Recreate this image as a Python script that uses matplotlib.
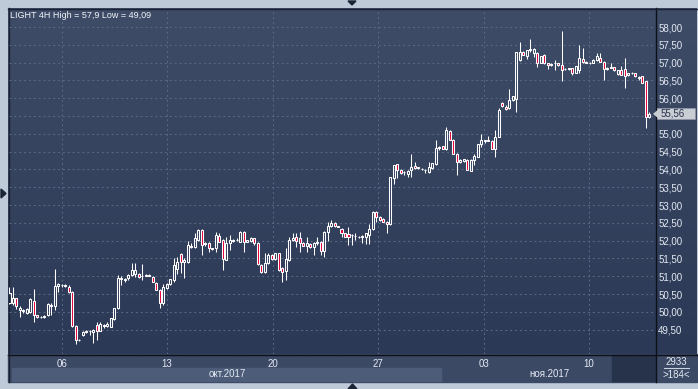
import numpy as np
import matplotlib
matplotlib.use('Agg')
import matplotlib.pyplot as plt
import matplotlib.colors as mcolors
from matplotlib.patches import Rectangle, Polygon
from matplotlib.transforms import blended_transform_factory

# 4H candles, LIGHT, oct-nov 2017
O = [50.26, 50.26, 50.38, 50.05, 50.02, 49.98, 50.00, 50.31, 49.91, 49.85,
     49.86, 49.90, 50.15, 50.16, 50.73, 50.76, 50.75, 50.70, 50.56, 49.60,
     49.20, 49.35, 49.44, 49.46, 49.44, 49.62, 49.47, 49.60, 49.60, 49.58,
     49.79, 50.10, 50.94, 50.92, 50.94, 51.03, 51.06, 51.06, 51.00, 51.02,
     51.02, 50.99, 50.82, 50.61, 50.24, 50.66, 50.77, 50.89, 51.20, 51.61,
     51.41, 51.41, 51.86, 51.83, 52.02, 52.30, 51.90, 51.92, 51.78, 51.78,
     52.13, 52.02, 51.45, 51.92, 52.00, 52.03, 51.97, 52.25, 51.97, 52.00,
     52.06, 51.92, 51.31, 51.13, 51.36, 51.60, 51.48, 51.64, 51.22, 51.15,
     51.45, 52.02, 52.10, 52.06, 51.94, 51.86, 51.90, 51.82, 51.92, 51.97,
     51.72, 52.25, 52.40, 52.50, 52.40, 52.34, 52.20, 52.18, 52.16, 52.13,
     52.11, 52.12, 52.09, 52.15, 52.34, 52.81, 52.67, 52.62, 52.53, 52.47,
     53.75, 54.14, 53.97, 53.94, 53.87, 53.97, 54.10, 54.03, 54.02, 53.99,
     53.94, 54.03, 54.15, 54.62, 54.65, 54.56, 55.09, 54.84, 54.43, 54.22,
     54.24, 54.26, 53.96, 54.26, 54.36, 54.71, 54.80, 54.84, 54.81, 54.56,
     54.92, 55.87, 55.75, 55.72, 55.95, 55.97, 57.07, 57.31, 57.19, 57.36,
     57.26, 57.26, 57.00, 57.21, 56.99, 56.93, 56.98, 56.98, 56.93, 56.81,
     56.81, 56.84, 56.72, 56.79, 57.09, 57.03, 56.99, 57.00, 57.07, 57.12,
     57.03, 56.81, 56.86, 56.87, 56.68, 56.79, 56.81, 56.65, 56.71, 56.70,
     56.59, 56.61, 56.47, 55.48]
H = [50.70, 50.69, 50.40, 50.15, 50.08, 50.10, 50.38, 50.63, 49.92, 49.88,
     49.90, 50.26, 50.25, 51.19, 50.80, 50.78, 50.77, 50.75, 50.58, 49.62,
     49.25, 49.46, 49.48, 49.50, 49.52, 49.72, 49.70, 49.65, 49.70, 49.84,
     50.12, 51.03, 51.00, 50.95, 51.05, 51.36, 51.36, 51.10, 51.34, 51.06,
     51.06, 51.02, 50.85, 50.64, 50.77, 50.80, 50.93, 51.50, 51.55, 51.66,
     51.50, 51.98, 51.92, 52.20, 52.33, 52.33, 51.95, 51.97, 51.80, 52.25,
     52.20, 52.05, 52.11, 52.16, 52.05, 52.06, 52.28, 52.28, 52.03, 52.10,
     52.08, 51.95, 51.33, 51.64, 51.64, 51.63, 51.66, 51.66, 51.25, 51.78,
     52.10, 52.20, 52.22, 52.25, 51.97, 52.10, 51.93, 51.95, 52.10, 52.00,
     52.28, 52.53, 52.58, 52.52, 52.42, 52.36, 52.22, 52.37, 52.18, 52.21,
     52.13, 52.15, 52.20, 52.46, 52.82, 52.83, 52.69, 52.64, 52.55, 53.80,
     54.12, 54.16, 54.00, 53.96, 53.98, 54.43, 54.22, 54.08, 54.05, 54.00,
     54.22, 54.17, 54.83, 54.65, 54.67, 55.18, 55.12, 54.86, 54.45, 54.28,
     54.30, 54.28, 54.28, 54.43, 54.72, 54.99, 54.84, 54.94, 54.83, 55.11,
     55.72, 55.90, 55.80, 56.25, 56.07, 57.31, 57.59, 57.33, 57.35, 57.65,
     57.40, 57.30, 57.19, 57.23, 57.00, 56.98, 57.08, 57.00, 57.89, 56.84,
     56.86, 56.86, 56.91, 57.50, 57.40, 57.05, 57.02, 57.10, 57.26, 57.26,
     57.05, 56.87, 56.98, 56.89, 56.80, 56.90, 57.12, 56.72, 56.74, 56.72,
     56.62, 56.62, 56.49, 55.60]
L = [50.22, 50.19, 50.08, 49.86, 49.98, 49.95, 49.98, 49.72, 49.82, 49.82,
     49.83, 49.88, 49.90, 50.05, 50.55, 50.70, 50.70, 50.54, 49.58, 49.09,
     49.18, 49.33, 49.40, 49.35, 49.12, 49.20, 49.45, 49.55, 49.58, 49.56,
     49.77, 50.08, 50.75, 50.85, 50.88, 51.00, 50.99, 50.95, 50.90, 51.00,
     51.00, 50.83, 50.60, 50.10, 50.19, 50.64, 50.76, 50.85, 51.05, 51.10,
     50.95, 51.38, 51.80, 51.80, 52.00, 51.60, 51.85, 51.68, 51.74, 51.69,
     51.97, 51.17, 51.45, 51.74, 51.95, 51.98, 51.95, 51.69, 51.95, 51.95,
     51.88, 51.32, 51.10, 51.08, 51.34, 51.45, 51.46, 51.15, 50.85, 50.90,
     51.43, 51.98, 51.83, 51.69, 51.85, 51.69, 51.80, 51.60, 51.88, 51.60,
     51.55, 52.00, 52.38, 52.38, 52.38, 52.10, 52.10, 51.88, 51.88, 52.02,
     52.08, 51.92, 51.90, 51.90, 52.30, 52.53, 52.56, 52.52, 52.20, 52.45,
     53.60, 53.75, 53.88, 53.84, 53.80, 53.80, 54.02, 54.00, 53.98, 53.90,
     53.90, 54.00, 54.12, 54.55, 54.57, 54.54, 54.83, 54.43, 53.84, 54.17,
     54.20, 53.98, 53.95, 54.12, 54.34, 54.63, 54.75, 54.79, 54.56, 54.35,
     54.90, 55.76, 55.67, 55.70, 55.93, 55.62, 57.05, 57.20, 57.10, 57.30,
     57.17, 56.89, 56.98, 56.97, 56.81, 56.91, 56.80, 56.90, 56.47, 56.78,
     56.80, 56.65, 56.70, 56.72, 57.00, 56.98, 56.96, 56.98, 57.05, 57.02,
     56.52, 56.79, 56.84, 56.77, 56.65, 56.64, 56.28, 56.63, 56.69, 56.60,
     56.50, 56.43, 55.15, 55.44]
C = [50.52, 50.38, 50.15, 50.10, 50.05, 50.07, 50.35, 49.91, 49.85, 49.86,
     49.88, 50.22, 50.18, 50.73, 50.78, 50.75, 50.73, 50.56, 49.60, 49.20,
     49.22, 49.44, 49.47, 49.47, 49.50, 49.47, 49.67, 49.62, 49.67, 49.82,
     50.10, 50.94, 50.93, 50.90, 51.03, 51.17, 51.17, 50.97, 51.00, 51.03,
     51.03, 50.85, 50.61, 50.24, 50.70, 50.77, 50.91, 51.31, 51.40, 51.41,
     51.45, 51.88, 51.83, 52.08, 52.30, 51.88, 51.92, 51.78, 51.76, 52.16,
     51.97, 51.47, 51.92, 52.02, 52.03, 52.02, 52.25, 51.97, 52.02, 52.08,
     51.94, 51.34, 51.13, 51.36, 51.60, 51.48, 51.64, 51.17, 51.13, 51.47,
     52.02, 52.08, 52.00, 51.92, 51.86, 51.92, 51.81, 51.92, 51.97, 51.70,
     52.25, 52.40, 52.50, 52.40, 52.39, 52.20, 52.11, 52.09, 52.15, 52.12,
     52.10, 52.10, 52.20, 52.34, 52.81, 52.67, 52.58, 52.53, 52.47, 53.78,
     54.12, 53.98, 53.89, 53.93, 53.96, 54.08, 54.03, 54.06, 54.00, 53.98,
     54.08, 54.17, 54.59, 54.60, 54.58, 55.11, 54.84, 54.43, 54.22, 54.27,
     54.29, 53.98, 54.26, 54.37, 54.71, 54.82, 54.83, 54.80, 54.56, 54.92,
     55.67, 55.78, 55.69, 55.95, 56.06, 57.31, 57.31, 57.22, 57.35, 57.38,
     57.38, 57.00, 57.19, 56.98, 56.93, 56.97, 56.98, 56.92, 56.79, 56.81,
     56.84, 56.72, 56.90, 57.12, 57.03, 56.99, 57.00, 57.07, 57.18, 57.03,
     56.81, 56.86, 56.87, 56.78, 56.79, 56.65, 56.61, 56.71, 56.72, 56.61,
     56.56, 56.44, 55.48, 55.56]

price_ticks = [49.5 + 0.5 * k for k in range(18)]
day_pos = [15.0, 45.1, 75.4, 105.4, 135.8, 165.8]   # bar index of week starts
day_labels = ['06', '13', '20', '27', '03', '10']
months = ['окт.2017', 'ноя.2017']
title = 'LIGHT 4H High = 57,9 Low = 49,09'
bars_total = '2933'
bars_shown = '>184<'

plt.rcParams['font.family'] = ['Liberation Sans', 'DejaVu Sans']
txt = '#e3e9f2'
red = '#e4003a'

fig = plt.figure(figsize=(6.98, 3.89), dpi=100)
fig.patch.set_facecolor('#bfcad9')

# background layer in pixel coords
bg = fig.add_axes([0, 0, 1, 1])
grad = np.linspace(0, 1, 256)[:, None, None]
c0 = np.array(mcolors.to_rgb('#3f4c67'))
c1 = np.array(mcolors.to_rgb('#2c3956'))
bg.imshow(c0 + (c1 - c0) * grad, extent=(8, 697, 354, 8), aspect='auto',
          interpolation='bilinear', zorder=0)
bg.add_patch(Rectangle((8, 354), 689, 28, color='#3c4965', zorder=1))
bg.add_patch(Rectangle((12, 368), 429, 13, color='#4d5c78', zorder=2))
bg.add_patch(Rectangle((612, 355), 43, 26, color='#27324b', zorder=2))
bg.plot([8, 697], [354.5, 354.5], color='#0c1018', lw=1, zorder=3)
bg.plot([655.5, 655.5], [8, 382], color='#0c1018', lw=1, zorder=3)
bg.plot([8, 697], [8.5, 8.5], color='#1a2130', lw=1, zorder=3)
bg.plot([8.5, 8.5], [8, 382], color='#1a2130', lw=1, zorder=3)
bg.plot([664, 689], [368, 368], color='#c9d2df', lw=0.8, zorder=3)
bg.add_patch(Polygon([(348, 1), (356, 1), (352, 5)], color='#1b2434', zorder=3))
bg.add_patch(Polygon([(348, 389), (357, 389), (352.5, 384)], color='#1b2434', zorder=3))
bg.add_patch(Polygon([(1, 189), (1, 198), (6, 193.5)], color='#1b2434', zorder=3))
bg.text(227, 374, months[0], color=txt, fontsize=7, ha='center', va='center', zorder=4)
bg.text(549, 374, months[1], color=txt, fontsize=7, ha='center', va='center', zorder=4)
bg.text(676, 362, bars_total, color=txt, fontsize=7, ha='center', va='center', zorder=4)
bg.text(676, 375, bars_shown, color=txt, fontsize=7, ha='center', va='center', zorder=4)
bg.text(10, 15, title, color='#f2f5fa', fontsize=6.5, ha='left', va='center', zorder=4)
bg.set_xlim(0, 698)
bg.set_ylim(389, 0)
bg.axis('off')

# candles
ax = fig.add_axes([9 / 698, 35 / 389, 646 / 698, 345 / 389])
ax.patch.set_alpha(0)
O_, H_, L_, C_ = map(np.array, (O, H, L, C))
x = np.arange(len(C_))
lo = np.minimum(O_, C_)
hi = np.maximum(O_, C_)
up = C_ >= O_
ax.vlines(x, hi, H_, color='white', lw=0.75, zorder=3)
ax.vlines(x, L_, lo, color='white', lw=0.75, zorder=3)
faces = [(0, 0, 0, 0) if u else red for u in up]
ax.bar(x, np.maximum(hi - lo, 0.004), bottom=lo, width=0.58, color=faces,
       edgecolor='white', linewidth=0.75, zorder=4)

last = C[-1]
ax.set_xlim(-0.14, 184.7)
ax.set_ylim(48.815, 58.506)
ax.yaxis.tick_right()
ax.set_yticks(price_ticks)
# the label under the last-price box is hidden, as in the terminal
ax.set_yticklabels(['' if abs(p - last) < 0.2 else f'{p:.2f}'.replace('.', ',')
                    for p in price_ticks])
ax.set_xticks(day_pos)
ax.set_xticklabels(day_labels)
ax.tick_params(axis='y', length=0, pad=2.2, labelsize=7, labelcolor=txt)
ax.tick_params(axis='x', length=0, pad=3.6, labelsize=7, labelcolor=txt)
ax.grid(True, color='#5a6986', lw=0.7, linestyle=(0, (2, 3)), zorder=1)
ax.set_axisbelow(True)
for s in ax.spines.values():
    s.set_visible(False)

# last price marker (11 px tall box on the price scale)
tr = blended_transform_factory(bg.transData, ax.transData)
ax.add_patch(Rectangle((657, last - 0.155), 38, 0.31, transform=tr, clip_on=False,
                       fc='#c9cdd4', ec='#8f98a8', lw=0.5, zorder=5))
ax.add_patch(Polygon([(653, last), (658, last + 0.12), (658, last - 0.12)], closed=True,
                     transform=tr, clip_on=False, fc='#c9cdd4', ec='none', zorder=5))
ax.text(661, last, f'{last:.2f}'.replace('.', ','), transform=tr, color='#27314a',
        fontsize=7, ha='left', va='center', zorder=6)

fig.savefig('out.png', dpi=100, facecolor=fig.get_facecolor())
